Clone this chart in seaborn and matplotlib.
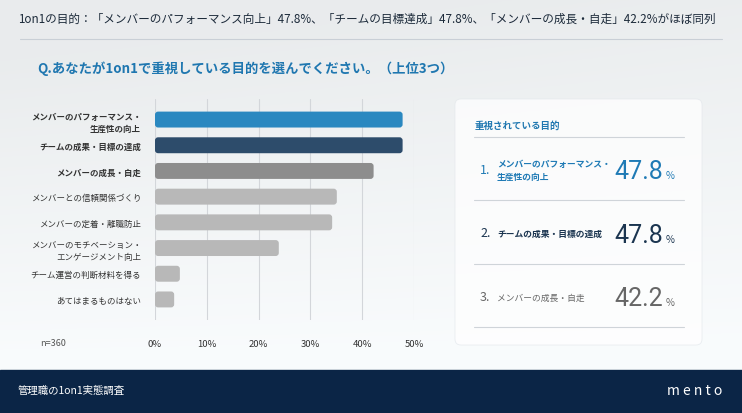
import numpy as np
import pandas as pd
import matplotlib
matplotlib.use("Agg")
import matplotlib.pyplot as plt
from matplotlib.patches import FancyBboxPatch, Rectangle
import seaborn as sns

sns.set_style("white")
plt.rcParams["font.family"] = ["Noto Sans CJK JP", "DejaVu Sans"]

# data
purposes = ["メンバーのパフォーマンス・\n生産性の向上", "チームの成果・目標の達成", "メンバーの成長・自走",
            "メンバーとの信頼関係づくり", "メンバーの定着・離職防止",
            "メンバーのモチベーション・\nエンゲージメント向上", "チーム運営の判断材料を得る",
            "あてはまるものはない"]
shares = [47.8, 47.8, 42.2, 35.1, 34.2, 23.9, 4.8, 3.7]
bar_colors = ["#2a88c0", "#2d4c6b", "#8d8d8d", "#b8b8b8", "#b8b8b8", "#b8b8b8", "#b8b8b8", "#b8b8b8"]
xticks = [0, 10, 20, 30, 40, 50]
top3_labels = ["メンバーのパフォーマンス・\n生産性の向上", "チームの成果・目標の達成", "メンバーの成長・自走"]
top3_values = [47.8, 47.8, 42.2]

df = pd.DataFrame({"purpose": purposes, "share": shares})

W, H = 742, 414
fig = plt.figure(figsize=(W / 100, H / 100), dpi=100)

# background layer in pixel coordinates
bg = fig.add_axes([0, 0, 1, 1], zorder=0)
bg.set_xlim(0, W)
bg.set_ylim(H, 0)
bg.axis("off")
yy = np.linspace(0, 1, 200)[:, None]
xx = np.linspace(0, 1, 300)[None, :]
grad = 0.93 + 0.06 * np.clip(yy * 1.4 - 0.2 + 0.3 * xx * (1 - yy), 0, 1)
bg.imshow(np.dstack([grad - 0.015, grad - 0.005, grad]), extent=[0, W, H, 0], aspect="auto", zorder=0)

# header
bg.text(18, 19, "1on1の目的：「メンバーのパフォーマンス向上」47.8%、「チームの目標達成」47.8%、「メンバーの成長・自走」42.2%がほぼ同列",
        fontsize=8.4, color="#1c2a3a", va="center", ha="left")
bg.plot([20, 722], [40, 40], color="#c9cfd6", lw=0.8)
bg.text(37, 69, "Q.あなたが1on1で重視している目的を選んでください。（上位3つ）",
        fontsize=9.6, color="#1f77b0", fontweight="bold", va="center", ha="left")
bg.text(40, 344, "n=360", fontsize=6.5, color="#555555", va="center", ha="left")

# footer
bg.add_patch(Rectangle((0, 371), W, 43, color="#0b2546", zorder=2))
bg.text(18, 391, "管理職の1on1実態調査", fontsize=7.5, color="white", va="center", ha="left", zorder=3)
bg.text(722, 391, "m e n t o", fontsize=10, color="white", va="center", ha="right", zorder=3)

# right panel
bg.add_patch(FancyBboxPatch((455, 100), 247, 246, boxstyle="round,pad=0,rounding_size=6",
                            facecolor="white", alpha=0.72, edgecolor="#e3e7eb", lw=0.6, zorder=2))
bg.text(475, 126, "重視されている目的", fontsize=6.8, color="#1f77b0", fontweight="bold", va="center", zorder=3)
for ly in [138, 201, 265, 328]:
    bg.plot([474, 684], [ly, ly], color="#cfd4d9", lw=0.8, zorder=3)

rank_colors = ["#1f7ab5", "#1b3550", "#666666"]
rank_y = [171, 234, 298]
baselines = [179, 243, 306]
for i, (lab, val) in enumerate(zip(top3_labels, top3_values)):
    c = rank_colors[i]
    w = "bold" if i < 2 else "normal"
    bg.text(480, rank_y[i], f"{i + 1}.", fontsize=9, color=c, va="center", ha="left", zorder=3)
    bg.text(497, rank_y[i], lab, fontsize=6.3, color=c, fontweight=w, va="center", ha="left",
            linespacing=1.6, zorder=3)
    bg.text(663, baselines[i], f"{val:.1f}", fontsize=18, color=c, va="baseline", ha="right",
            family=["Roboto", "DejaVu Sans"], fontweight="normal", zorder=3)
    bg.text(666, baselines[i], "%", fontsize=7, color=c, va="baseline", ha="left", zorder=3)

# bar chart
ax = fig.add_axes([155 / W, 1 - 321 / H, 259 / W, 221 / H], zorder=1)
ax.patch.set_alpha(0)
sns.barplot(data=df, x="share", y="purpose", hue="purpose", palette=bar_colors, legend=False,
            width=0.62, saturation=1, ax=ax)
ax.set_xlim(0, 50)
ax.set_ylim(7.8, -0.8)

# swap plain rectangles for rounded ones
for p in list(ax.patches):
    x0, y0, w, h = p.get_x(), p.get_y(), p.get_width(), p.get_height()
    fc = p.get_facecolor()
    p.remove()
    ax.add_patch(FancyBboxPatch((x0, y0), w, h, boxstyle="round,pad=0,rounding_size=0.6",
                                mutation_aspect=0.2, facecolor=fc, edgecolor="none", zorder=2))

ax.set_xticks(xticks)
ax.set_xticklabels([f"{t}%" for t in xticks])
ax.grid(axis="x", color="#d3d6da", lw=0.8, zorder=0)
ax.set_axisbelow(True)
for s in ax.spines.values():
    s.set_visible(False)
ax.tick_params(axis="x", length=0, pad=14, labelsize=6.8, labelcolor="#333333")
ax.tick_params(axis="y", length=0, pad=10, labelsize=6.1, labelcolor="#333333")
ax.set_xlabel("")
ax.set_ylabel("")
for i, t in enumerate(ax.get_yticklabels()):
    t.set_ha("right")
    t.set_multialignment("right")
    t.set_linespacing(1.45)
    if i < 3:
        t.set_fontweight("bold")

fig.savefig("out.png", dpi=100)
